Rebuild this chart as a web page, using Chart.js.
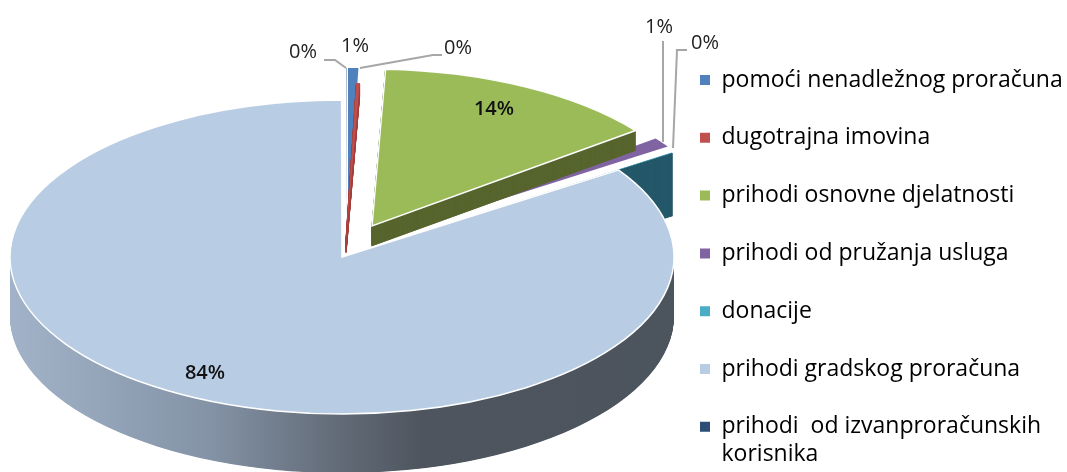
<!DOCTYPE html>
<html>
<head>
<meta charset="utf-8">
<style>
    html, body { margin: 0; background: #fff; }
    #wrap { position: relative; width: 1067px; height: 472px; overflow: hidden; }
</style>
<script src="https://cdn.jsdelivr.net/npm/chart.js@4"></script>
</head>
<body>
<div id="wrap"><canvas id="chart"></canvas></div>
<script>
const categories = [
    'pomoći nenadležnog proračuna',
    'dugotrajna imovina',
    'prihodi osnovne djelatnosti',
    'prihodi od pružanja usluga',
    'donacije',
    'prihodi gradskog proračuna',
    'prihodi  od izvanproračunskih\nkorisnika'
];
const shares = [0.5, 0.15, 13.95, 1, 0.05, 84.33, 0.02];

const topColors = ['#4f81bd', '#c0504d', '#9bbb59', '#8064a2', '#4bacc6', '#b8cce4', '#2c4d75'];
const sideColors = ['#4f81bd', '#a5403e', '#58662f', '#8064a2', '#25586a', null, '#2c4d75'];

// how far each slice is pulled out of the pie, and how thick it is (screen px)
const pull = [[6, -32], [4, -17], [30, -31], [50, -23], [54, -17], [0, 0], [5, -32]];
const depth = [0, 13, 20, 0, 63, 59, 0];
const drawOrder = [6, 0, 4, 3, 1, 2, 5];

const PIE = { x: 342, y: 257, rx: 332, ry: 157 };
const LEGEND = { x: 700, firstRow: 68.5, rowGap: 34.8 };
const FONT = '"Open Sans", sans-serif';

// text position of each percentage and its leader line
const labelPos = [[355, 46], [458, 48], [494, 109], [659, 27], [705, 43], [205, 373], [303, 52]];
const leaders = [
    null,
    [[360, 68], [433, 55], [442, 55]],
    null,
    [[663, 41], [663, 142]],
    [[673, 148], [677, 50], [687, 50]],
    null,
    [[324, 60], [335, 60], [346, 68]]
];

function placeSlice(ctx, arc, i, drop) {
    const k = arc.outerRadius;
    ctx.translate(PIE.x + pull[i][0], PIE.y + pull[i][1] + drop);
    ctx.scale(PIE.rx / k, PIE.ry / k);
    ctx.translate(-arc.x, -arc.y);
}

function slicePath(ctx, arc) {
    ctx.beginPath();
    ctx.moveTo(arc.x, arc.y);
    ctx.arc(arc.x, arc.y, arc.outerRadius, arc.startAngle, arc.endAngle);
    ctx.closePath();
}

// squashes the pie to an ellipse and gives the slices a side wall
const pie3d = {
    id: 'pie3d',
    afterUpdate(chart) {
        // legend sits at a fixed spot, the pie is placed separately
        const legend = chart.legend;
        const w = legend.right - legend.left;
        const h = legend.bottom - legend.top;
        legend.left = LEGEND.x - LEGEND.rowGap;
        legend.right = legend.left + w;
        legend.bottom = LEGEND.firstRow + legend.columnSizes[0].height;
        legend.top = legend.bottom - h;
    },
    beforeDatasetDraw(chart) {
        const ctx = chart.ctx;
        const arcs = chart.getDatasetMeta(0).data;
        drawOrder.forEach(i => {
            const arc = arcs[i];
            for (let d = depth[i]; d > 0; d -= 0.5) {
                ctx.save();
                placeSlice(ctx, arc, i, d);
                if (sideColors[i]) {
                    ctx.fillStyle = sideColors[i];
                    ctx.strokeStyle = sideColors[i];
                    ctx.lineWidth = 0.8;
                    slicePath(ctx, arc);
                    ctx.stroke();
                } else {
                    const g = ctx.createLinearGradient(arc.x - arc.outerRadius, 0, arc.x + arc.outerRadius, 0);
                    g.addColorStop(0, '#a2b3c9');
                    g.addColorStop(0.3, '#8493a6');
                    g.addColorStop(0.5, '#616a76');
                    g.addColorStop(0.62, '#4e555f');
                    g.addColorStop(1, '#4c545e');
                    ctx.fillStyle = g;
                }
                slicePath(ctx, arc);
                ctx.fill();
                ctx.restore();
            }
            ctx.save();
            placeSlice(ctx, arc, i, 0);
            arc.draw(ctx);
            if (i === 2 || i === 5) {
                slicePath(ctx, arc);
                ctx.restore();
                ctx.save();
                ctx.strokeStyle = '#fff';
                ctx.lineWidth = 1.5;
                ctx.stroke();
            }
            ctx.restore();
        });
        return false;
    },
    afterDraw(chart) {
        const ctx = chart.ctx;
        ctx.save();
        ctx.strokeStyle = '#a6a6a6';
        ctx.lineWidth = 2;
        leaders.forEach(line => {
            if (!line) return;
            ctx.beginPath();
            line.forEach((p, n) => n ? ctx.lineTo(p[0], p[1]) : ctx.moveTo(p[0], p[1]));
            ctx.stroke();
        });
        ctx.textAlign = 'center';
        ctx.textBaseline = 'middle';
        shares.forEach((v, i) => {
            const strong = i === 2 || i === 5;
            ctx.font = (strong ? '600 ' : '') + '20px ' + FONT;
            ctx.fillStyle = strong ? '#111' : '#222';
            ctx.fillText(Math.round(v) + '%', labelPos[i][0], labelPos[i][1]);
        });
        ctx.restore();
    }
};

new Chart(document.getElementById('chart'), {
    type: 'pie',
    data: {
        labels: categories,
        datasets: [{
            data: shares,
            backgroundColor: topColors,
            borderWidth: 0
        }]
    },
    options: {
        responsive: true,
        maintainAspectRatio: false,
        animation: false,
        plugins: {
            tooltip: { enabled: false },
            legend: {
                position: 'right',
                align: 'end',
                labels: {
                    boxWidth: 10,
                    boxHeight: 10,
                    padding: LEGEND.rowGap,
                    color: '#1a1a1a',
                    font: { family: FONT, size: 23, weight: '500', lineHeight: 1.2 },
                    generateLabels(chart) {
                        return categories.map((c, i) => ({
                            text: c.includes('\n') ? c.split('\n') : c,
                            fillStyle: topColors[i],
                            strokeStyle: topColors[i],
                            lineWidth: 0,
                            index: i
                        }));
                    }
                }
            }
        }
    },
    plugins: [pie3d]
});
</script>
</body>
</html>
